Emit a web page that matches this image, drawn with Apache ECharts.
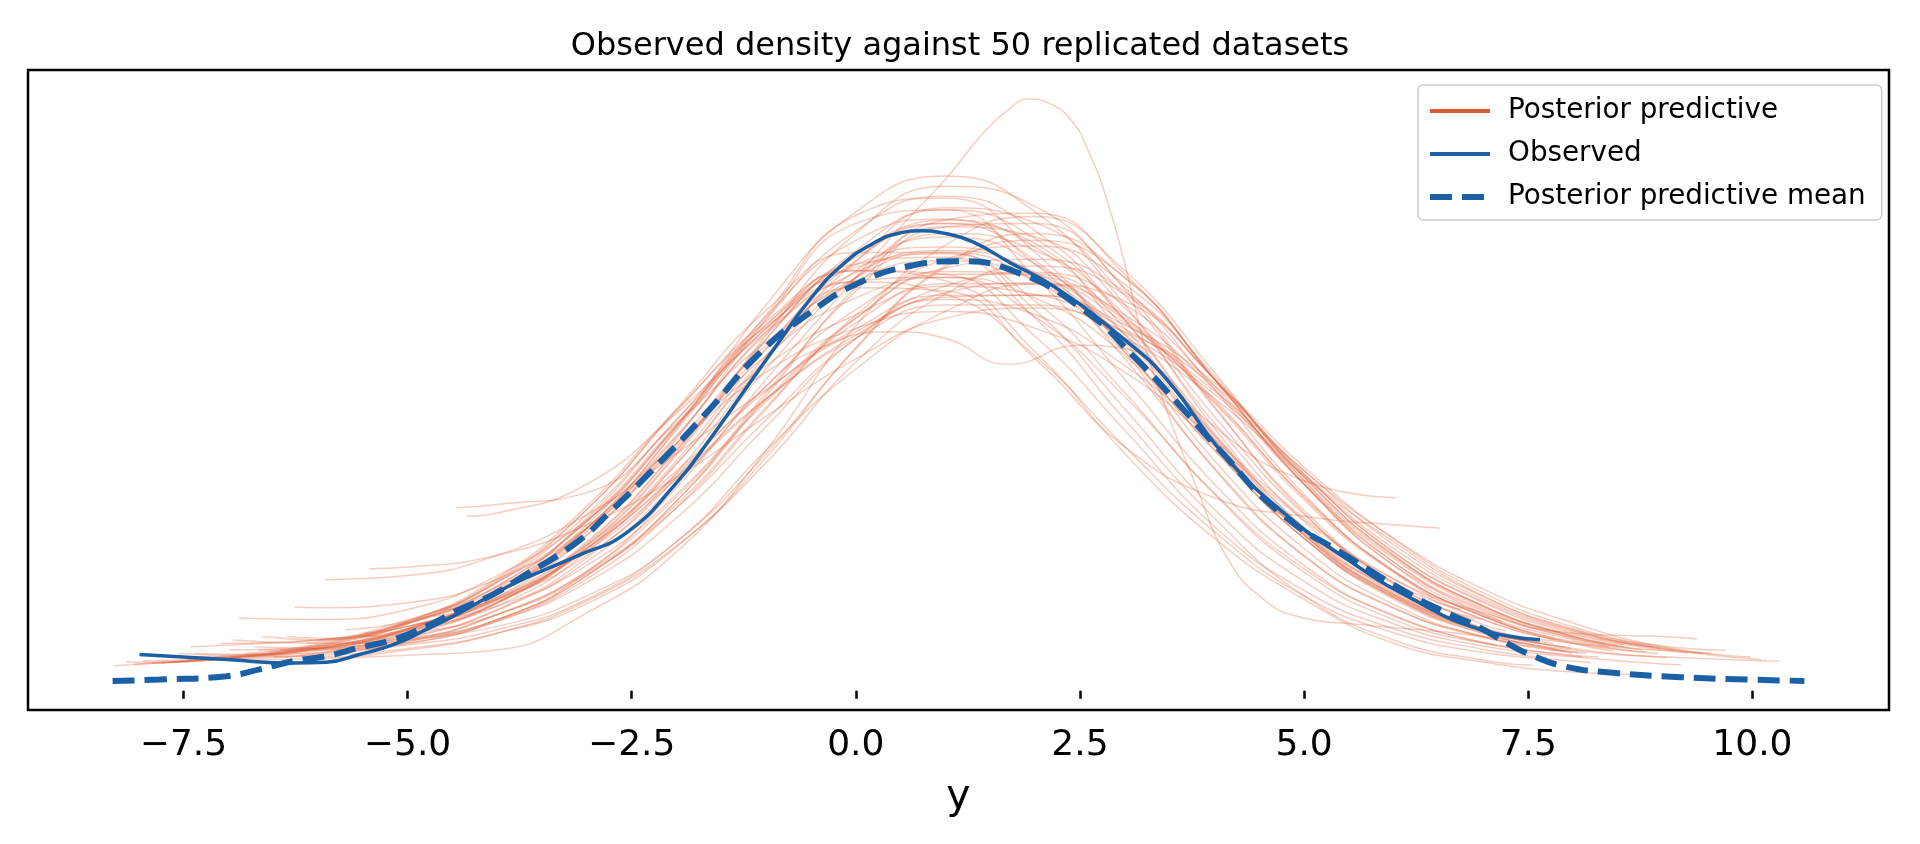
<!DOCTYPE html>
<html>
<head>
<meta charset="utf-8">
<title>Observed density against 50 replicated datasets</title>
<script src="https://cdn.jsdelivr.net/npm/echarts/dist/echarts.min.js"></script>
<style>
  html, body { margin: 0; padding: 0; background: #fff; }
  #main { width: 1920px; height: 844px; }
</style>
</head>
<body>
<div id="main"></div>
<script>
// colours
const ppColor = '#dd5e34';
const obsColor = '#1b5fa4';
const font = 'DejaVu Sans';

// x axis ticks
const xTicks = [-7.5, -5, -2.5, 0, 2.5, 5, 7.5, 10];

// observed KDE  [y, density x1000]
const observed = [
  [-7.99, 10.7], [-7.02, 9.2], [-6.28, 8.2], [-5.91, 8.4], [-5.54, 10.7], [-5.16, 13.6],
  [-4.79, 18.1], [-4.42, 23], [-4.05, 28.4], [-3.68, 33.3], [-3.1, 39.9], [-2.56, 46.6],
  [-2.0, 61.4], [-1.63, 74.2], [-1.26, 88], [-0.89, 101.8], [-0.51, 115.6], [-0.14, 126],
  [0.2, 132.2], [0.48, 135.1], [0.73, 135.8], [1.0, 135], [1.3, 132.6], [1.72, 126.4],
  [2.2, 119.5], [2.95, 104.7], [3.47, 91.9], [4.1, 69.8], [4.73, 53.5], [5.48, 38.8],
  [6.22, 26.9], [6.96, 18.1], [7.63, 15.1]
];

// posterior predictive mean KDE
const ppMean = [
  [-8.29, 2.9], [-7.77, 3.3], [-7.02, 4.3], [-6.65, 6.3], [-6.28, 8.7], [-5.91, 10.2],
  [-5.54, 12.7], [-5.16, 15.1], [-4.79, 19], [-4.42, 24], [-4.05, 28.4], [-3.68, 34.3],
  [-3.12, 43.7], [-2.75, 52.6], [-2.19, 67.3], [-1.63, 83.1], [-1.07, 99.8], [-0.51, 111.7],
  [0.04, 120.5], [0.6, 125.4], [1.12, 126.8], [1.78, 123.7], [2.55, 112.3], [3.13, 97.9],
  [3.6, 84.6], [4.05, 71.3], [4.73, 52.6], [5.48, 39.7], [6.22, 27.9], [6.59, 23],
  [6.96, 18.6], [7.26, 14.1], [7.52, 10.7], [7.9, 7.2], [8.45, 5.3], [9.2, 4],
  [9.94, 3.3], [10.58, 2.9]
];

// 50 replicated KDEs
const ppCurves = [
  [[-8.27,7.4],[-8,7.8],[-7,9.5],[-6,12.4],[-5,18.2],[-4,29.3],[-3,48.1],[-2,75.4],[-1,105.3],[0,123.5],[1,130],[2,123.5],[3,105.3],[4,75.4],[5,48.1],[6,29.3],[7,18.2],[7.98,12.4]],
  [[-8.14,8.5],[-8,8.4],[-7,9.2],[-6,10.8],[-5,14.5],[-4,22.5],[-3,35.4],[-2,57.3],[-1,85.4],[0,108.6],[1,120.2],[2,120.2],[3,108.6],[4,85.4],[5,57.3],[6,35.4],[7,22],[8,14],[8.45,11.7]],
  [[-8.05,7.8],[-7,10],[-6,13.2],[-5,19.8],[-4,32.3],[-3,53.5],[-2,83.2],[-1,112.3],[0,129.4],[1,129.4],[2,112.3],[3,83.2],[4,53.5],[5,32.3],[6,19.8],[7,13.2],[8,10],[9,7.9],[9.2,7.7]],
  [[-7.95,8.8],[-7,9.8],[-6,12.4],[-5,17.5],[-4,27.7],[-3,46],[-2,74.5],[-1,109.5],[0,135.8],[1,146],[2,135.8],[3,109.5],[4,74.5],[5,46],[6,27.7],[7,17.5],[7.62,14.2]],
  [[-7.85,8.1],[-7,9.7],[-6,12.7],[-5,18.3],[-4,27.7],[-3,43.1],[-2,64.9],[-1,88.5],[0,106.8],[1,116.8],[2,116.8],[3,106.8],[4,88.5],[5,64.9],[6,43.1],[7,27.7],[8,18.3],[9,12.7],[9.54,10.9]],
  [[-7.75,8.2],[-7,9.6],[-6,13.2],[-5,20.3],[-4,33.3],[-3,54.5],[-2,83],[-1,107.4],[0,120.8],[1,117.1],[2,98.8],[3,72],[4,47],[5,28],[6,17.1],[7,11.3],[8,8.8],[8.2,8.3]],
  [[-7.65,8.4],[-7,9.8],[-6,12.2],[-5,16.8],[-4,26.1],[-3,43],[-2,70.2],[-1,105],[0,135],[1,149],[2,143],[3,118.5],[4,84],[5,52.5],[6,31.5],[7,19.5],[7.26,17.7]],
  [[-7.55,11],[-7,10.5],[-6,11.2],[-5,14],[-4,20.6],[-3,33],[-2,54.1],[-1,83.2],[0,110.9],[1,127.4],[2,131.3],[3,120],[4,93],[5,63],[6,40],[7,25],[8,16],[8.77,12.2]],
  [[-7.45,9],[-7,9.8],[-6,12.6],[-5,18.5],[-4,29.4],[-3,49],[-2,78.4],[-1,110.6],[0,133],[1,139.3],[2,126],[3,98],[4,65.8],[5,39.9],[6,24.5],[7,15.7],[7.9,11.6]],
  [[-7.38,11],[-7,10.8],[-6,12.4],[-5,17.8],[-4,27],[-3,42],[-2,63.3],[-1,86.3],[0,104.1],[1,113.9],[2,113.9],[3,104.1],[4,86.3],[5,63.3],[6,42],[7,27],[8,17.8],[9,12.4],[10.1,9.2]],
  [[-7.3,10],[-7,10.3],[-6,13.5],[-5,20.5],[-4,32],[-3,52],[-2,80],[-1,106],[0,121],[1,122.1],[2,110.4],[3,86.8],[4,58.3],[5,36],[6,22.3],[7,14.3],[8.1,10]],
  [[-7.22,9],[-6,11.8],[-5,16.5],[-4,25.8],[-3,42.6],[-2,69.6],[-1,103.7],[0,129.9],[1,142],[2,133.5],[3,109.3],[4,75.3],[5,46.9],[6,28.4],[7.06,17.2]],
  [[-7.15,10],[-6,10.5],[-5,12.5],[-4,17],[-3,25.7],[-2,42.5],[-1,68.9],[0,101.3],[1,125.6],[2,135],[3,122],[4,92],[5,61],[6,38],[7,24],[8,15.5],[8.62,12.8]],
  [[-7.08,14],[-6,15],[-5,21],[-4,30.6],[-3,48],[-2,73.2],[-1,96],[0,111],[1,119.4],[2,117],[3,105.6],[4,87.6],[5,63.6],[6,40.8],[7,26.4],[8,17.4],[8.98,12.4]],
  [[-6.99,12],[-6,13.1],[-5,19.8],[-4,32.8],[-3,53.6],[-2,82.5],[-1,109],[0,124.1],[1,122.9],[2,104.6],[3,76.9],[4,48.5],[5,29.6],[6,18.3],[7,12.2],[7.71,9.8]],
  [[-6.95,15],[-6,14],[-5,15.5],[-4,22.5],[-3,35],[-2,55],[-1,83.8],[0,110],[1,124.8],[2,127.4],[3,117.8],[4,92],[5,63],[6,40],[7,25],[8,16],[8.35,14]],
  [[-6.88,21.5],[-6,21],[-5,24],[-4,34],[-3,50.4],[-2,72.8],[-1,94.1],[0,107],[1,112],[2,107],[3,94.1],[4,72.8],[5,50.4],[6,33],[7,23],[8,17],[9,16],[9.38,15.3]],
  [[-6.82,11],[-6,13.8],[-5,20.6],[-4,32],[-3,50],[-2,78],[-1,111],[0,140.4],[1,145.5],[2,129.4],[3,100],[4,65.4],[5,39.7],[6,24.3],[7,15.9],[7.4,14]],
  [[-6.75,9],[-6,9.5],[-5,10.5],[-4,12],[-3,23],[-2,41],[-1,71],[0,107.8],[1,131.6],[2,140],[3,124],[4,94],[5,62],[6,38],[7,23.5],[8,15.5],[8.5,13.2]],
  [[-6.7,13],[-6,12.5],[-5,16],[-4,23.8],[-3,38.1],[-2,61.3],[-1,90],[0,112.5],[1,123.8],[2,122.5],[3,109.4],[4,85],[5,56.3],[6,35],[7,21.9],[7.8,15]],
  [[-6.62,16],[-6,15],[-5,20],[-4,30.8],[-3,50.4],[-2,78.6],[-1,108.1],[0,125.8],[1,131],[2,123.1],[3,103.5],[4,73.4],[5,46.5],[6,28.2],[7,18.5],[8,14],[9.12,11.8]],
  [[-6.55,11.4],[-6,12.9],[-5,18.2],[-4,28.9],[-3,47.9],[-2,77.5],[-1,114],[0,141.4],[1,152],[2,141.4],[3,114],[4,77.5],[5,47.9],[6,28.9],[7,18.2],[7.32,16]],
  [[-6.5,10],[-6,10],[-5,12],[-4,17],[-3,26.5],[-2,42.8],[-1,67.4],[0,97],[1,117.2],[2,125.4],[3,117],[4,92],[5,64],[6,41],[7,26],[8,17],[8.9,13]],
  [[-6.42,12],[-6,12.5],[-5,18],[-4,29],[-3,47],[-2,75],[-1,106],[0,126],[1,128],[2,110],[3,80],[4,51],[5,28],[6,15],[7,9],[7.55,7.5]],
  [[-6.35,16],[-6,15.5],[-5,19],[-4,27.5],[-3,41.3],[-2,62.5],[-1,86.1],[0,105],[1,116.2],[2,116.8],[3,108],[4,90.9],[5,66],[6,44.8],[7,28.9],[8,18.9],[9,13.2],[9.7,12]],
  [[-6.26,24.7],[-6,24.5],[-5,26],[-4,33],[-3,48],[-2,72],[-1,99],[0,116],[1,122],[2,116],[3,99],[4,71],[5,45],[6,27.5],[7,17],[8.05,11.3]],
  [[-6.2,10.5],[-5,15.6],[-4,23.9],[-3,39.3],[-2,64.4],[-1,97.9],[0,126.7],[1,142.6],[2,138.2],[3,116.6],[4,83.5],[5,53.3],[6,31.7],[6.9,20.9]],
  [[-6.12,14],[-5,20],[-4,31],[-3,50],[-2,78],[-1,107],[0,125],[1,129],[2,115],[3,88],[4,58],[5,35],[6,21],[7,14],[8,10.5],[8.28,10]],
  [[-6.05,12],[-5,14],[-4,20.5],[-3,32],[-2,51],[-1,78],[0,104],[1,119.5],[2,123.5],[3,114],[4,90],[5,62],[6,39.5],[7,25],[8,16.5],[9.28,11.2]],
  [[-5.99,15],[-5,18],[-4,26],[-3,42],[-2,68],[-1,101],[0,127],[1,139],[2,131],[3,107],[4,74],[5,46],[6,28],[7,17.5],[7.48,15]],
  [[-5.92,32.8],[-5,34],[-4,40],[-3,52],[-2,70],[-1,89],[0,106],[1,115.5],[2,111],[3,96],[4,74],[5,51],[6,33],[7,21],[8,14],[8.82,11.5]],
  [[-5.85,12],[-5,14.5],[-4,21],[-3,34],[-2,56],[-1,88],[0,118],[1,137],[2,138],[3,119],[4,89],[5,58],[6,35],[7,21],[7.86,15]],
  [[-5.78,12],[-5,13.5],[-4,18],[-3,27],[-2,44],[-1,70],[0,101],[1,125],[2,133],[3,122],[4,92],[5,61],[6,37],[7,22.5],[8,15],[8.4,13]],
  [[-5.7,18],[-5,20.5],[-4,29],[-3,46],[-2,73],[-1,102],[0,121],[1,127],[2,121],[3,102],[4,73],[5,46],[6,28.5],[7,18],[8,12.5],[9.05,9.8]],
  [[-5.62,14],[-5,18],[-4,29],[-3,48],[-2,77],[-1,110],[0,138],[1,142],[2,122],[3,92],[4,61],[5,37],[6,22],[7.15,13.4]],
  [[-5.55,16],[-5,17],[-4,22.5],[-3,34.5],[-2,54],[-1,80],[0,104],[1,117.5],[2,120.5],[3,111],[4,89],[5,61],[6,39],[7,24.5],[8,16],[8.55,13.5]],
  [[-5.48,17],[-5,19],[-4,26.5],[-3,42],[-2,67],[-1,98],[0,122],[1,135],[2,130],[3,111],[4,79],[5,50],[6,30],[7,18.5],[7.78,14]],
  [[-5.42,36],[-5,36.5],[-4,40],[-3,49],[-2,63],[-1,81],[0,98],[1,110],[2,113],[3,106],[4,90],[5,65],[6,45],[7,30],[8,20],[9,13],[9.98,10]],
  [[-5.35,15],[-5,17],[-4,26],[-3,43.5],[-2,71],[-1,104],[0,129],[1,138],[2,127],[3,101],[4,68],[5,42],[6,25.5],[7,16],[8.15,11]],
  [[-5.25,14],[-5,15],[-4,21],[-3,34],[-2,56],[-1,87],[0,119],[1,139],[2,141],[3,123],[4,92],[5,61],[6,37],[7.21,20.5]],
  [[-5.15,19],[-4,30],[-3,51],[-2,80],[-1,108],[0,124],[1,121],[2,100],[3,70],[4,45],[5,27],[6,14],[7,8.5],[8,5.5],[8.7,4.8]],
  [[-5.05,15],[-4,19],[-3,28],[-2,44],[-1,71],[0,95],[1,112],[2,120],[3,115],[4,92],[5,64],[6,44],[7,28],[8,18],[9,12.5],[9.45,11]],
  [[-4.95,18],[-4,25],[-3,41],[-2,67],[-1,99],[0,124],[1,134],[2,126],[3,103],[4,72],[5,45],[6,27.5],[7,17.5],[7.92,13]],
  [[-4.85,20],[-4,25],[-3,37],[-2,58],[-1,86],[0,110],[1,123],[2,123],[3,110],[4,86],[5,57],[6,35.5],[7,22],[8,14.5],[8.95,11]],
  [[-4.72,22],[-4,27],[-3,44],[-2,71],[-1,101],[0,122],[1,129.5],[2,121],[3,100],[4,71],[5,45],[6,27],[7,17],[8,12],[9,10],[10.3,8.7]],
  [[-4.6,24],[-4,27],[-3,40],[-2,63],[-1,95],[0,122],[1,137],[2,134],[3,113],[4,81],[5,52],[6,32],[6.75,24]],
  [[-4.46,54],[-4,55],[-3,58.5],[-2,79],[-1,103],[0,119],[1,118],[2,98],[3,72],[4,57],[5,51.5],[6,49],[6.52,48]],
  [[-4.34,51.5],[-4,52.5],[-3,61],[-2,82],[-1,107],[0,128],[1,138],[2,132],[3,105],[4,78],[5,62],[6.02,57]],
  [[-6.66,12],[-6,12.5],[-5,15],[-4,21],[-3,35],[-2,60],[-1,92],[0,122],[0.5,137],[1,151],[1.4,164],[1.7,171.5],[1.92,174.7],[2.15,173.5],[2.4,168.5],[2.6,159],[2.8,145],[3,126],[3.2,104],[3.45,84],[3.8,60],[4.17,38],[4.55,27],[4.92,22],[5.66,19.5],[7,16],[7.99,11]],
  [[-7.42,13],[-7,13.5],[-6,15],[-5,19],[-4,27],[-3,42],[-2,64],[-1,90],[-0.5,100],[0.4,106],[1,104],[1.7,96.4],[2.5,102],[3,101],[3.5,92],[4,76],[5,47],[6,30],[6.98,21]]
];

// axis range like matplotlib autoscale: data range + 5% margins
const allPoints = observed.concat(ppMean, ...ppCurves);
const xs = allPoints.map(p => p[0]);
const ys = allPoints.map(p => p[1]);
function withMargin(lo, hi) {
    const m = (hi - lo) * 0.05;
    return [lo - m, hi + m];
}
const [xMin, xMax] = withMargin(Math.min(...xs), Math.max(...xs));
const [yMin, yMax] = withMargin(Math.min(...ys), Math.max(...ys));

const chart = echarts.init(document.getElementById('main'));

const replicaSeries = ppCurves.map(curve => ({
    name: 'Posterior predictive',
    type: 'line',
    data: curve,
    symbol: 'none',
    smooth: 0.5,
    silent: true,
    lineStyle: { color: ppColor, width: 1.5, opacity: 0.3 },
    itemStyle: { color: ppColor }
}));

const option = {
    animation: false,
    backgroundColor: '#fff',
    title: {
        text: 'Observed density against 50 replicated datasets',
        left: 'center',
        top: 31,
        padding: 0,
        textStyle: { fontFamily: font, fontSize: 32, fontWeight: 'normal', color: '#000' }
    },
    legend: {
        orient: 'vertical',
        left: 1418,
        top: 85,
        padding: [12, 16, 9, 9],
        itemWidth: 60,
        itemHeight: 14,
        itemGap: 15,
        selectedMode: false,
        backgroundColor: 'rgba(255,255,255,0.8)',
        borderColor: '#cccccc',
        borderWidth: 1.5,
        borderRadius: 5,
        textStyle: { fontFamily: font, fontSize: 27.8, lineHeight: 28, color: '#000', padding: [0, 0, 0, 13] },
        data: [
            { name: 'Posterior predictive', itemStyle: { opacity: 0 }, lineStyle: { color: ppColor, width: 3.8, opacity: 1 } },
            { name: 'Observed', itemStyle: { opacity: 0 }, lineStyle: { color: obsColor, width: 3.8 } },
            { name: 'Posterior predictive mean', itemStyle: { opacity: 0 }, lineStyle: { color: obsColor, width: 6, type: [22, 10] } }
        ]
    },
    grid: {
        left: 28,
        top: 70,
        width: 1861,
        height: 640,
        show: true,
        borderColor: '#000',
        borderWidth: 2.5,
        outerBoundsMode: 'none'
    },
    xAxis: {
        type: 'value',
        min: xMin,
        max: xMax,
        axisLine: { show: false },
        splitLine: { show: false },
        axisTick: { show: true, customValues: xTicks, length: 8, lineStyle: { color: '#000', width: 2.5 } },
        axisLabel: {
            customValues: xTicks,
            margin: 18,
            fontFamily: font,
            fontSize: 36,
            color: '#000',
            formatter: v => (v < 0 ? '\u2212' : '') + Math.abs(v).toFixed(1)
        },
        name: 'y',
        nameLocation: 'middle',
        nameGap: 67,
        nameTextStyle: { fontFamily: font, fontSize: 41, color: '#000' }
    },
    yAxis: {
        type: 'value',
        min: yMin,
        max: yMax,
        show: false
    },
    series: replicaSeries.concat([
        {
            name: 'Observed',
            type: 'line',
            data: observed,
            symbol: 'none',
            smooth: 0.5,
            lineStyle: { color: obsColor, width: 3.5 },
            itemStyle: { color: obsColor }
        },
        {
            name: 'Posterior predictive mean',
            type: 'line',
            data: ppMean,
            symbol: 'none',
            smooth: 0.5,
            lineStyle: { color: obsColor, width: 6, type: [22, 10] },
            itemStyle: { color: obsColor }
        }
    ])
};

chart.setOption(option);
</script>
</body>
</html>
